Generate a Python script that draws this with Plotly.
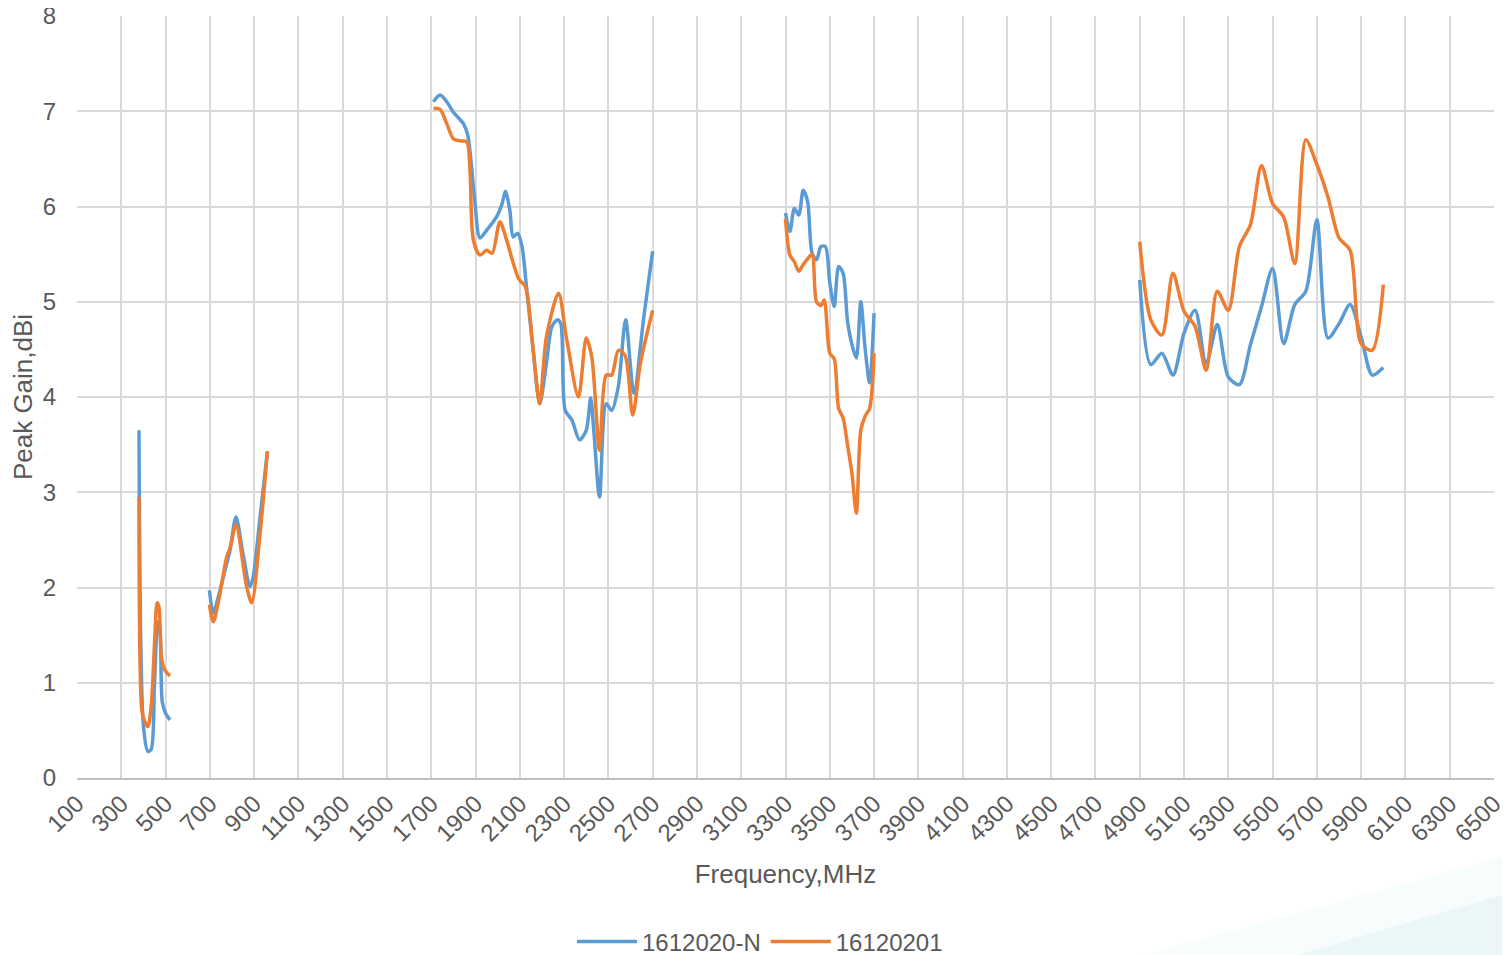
import plotly.graph_objects as go

# frequency (MHz) and peak gain (dBi), None = gap between bands
freq_n = [380, 400, 420, 435, 450, 465, 475, 485, 500, 520, None,
          698, 716, 738, 765, 791, 818, 850, 881, 895, 925, 960, None,
          1710, 1740, 1770, 1800, 1845, 1865, 1895, 1920, 1950, 1995, 2020, 2035, 2055, 2070,
          2090, 2110, 2130, 2160, 2190, 2220, 2245, 2270, 2285, 2305, 2335, 2370, 2400, 2420,
          2435, 2460, 2490, 2515, 2545, 2578, 2615, 2660, 2700, None,
          3300, 3320, 3340, 3360, 3380, 3400, 3420, 3440, 3460, 3480, 3500, 3520, 3540, 3560,
          3580, 3600, 3620, 3640, 3660, 3680, 3700, None,
          4900, 4950, 5000, 5050, 5100, 5150, 5200, 5250, 5300, 5350, 5400, 5450, 5500, 5550,
          5600, 5650, 5700, 5750, 5800, 5850, 5900, 5950, 6000]
gain_n = [3.65, 0.55, 0.28, 0.30, 1.00, 1.64, 1.55, 0.80, 0.68, 0.61, None,
          1.97, 1.73, 1.90, 2.15, 2.39, 2.74, 2.35, 2.01, 2.10, 2.70, 3.43, None,
          7.10, 7.17, 7.10, 6.99, 6.87, 6.75, 6.10, 5.67, 5.75, 5.89, 6.03, 6.16, 5.96, 5.68,
          5.72, 5.58, 5.16, 4.50, 3.93, 4.35, 4.74, 4.81, 4.77, 3.86, 3.76, 3.55, 3.65, 3.99,
          3.62, 2.95, 3.93, 3.86, 4.11, 4.81, 4.04, 4.84, 5.53, None,
          5.93, 5.74, 5.98, 5.91, 6.17, 6.05, 5.51, 5.44, 5.58, 5.58, 5.20, 4.95, 5.37, 5.30,
          4.80, 4.55, 4.41, 5.00, 4.50, 4.15, 4.88, None,
          5.23, 4.34, 4.46, 4.23, 4.67, 4.91, 4.35, 4.76, 4.21, 4.13, 4.55, 4.95, 5.35, 4.56,
          4.97, 5.11, 5.86, 4.62, 4.77, 4.97, 4.63, 4.23, 4.31]

freq_1 = [380, 393, 405, 420, 435, 451, 462, 470, 480, 490, 500, 520, None,
          698, 716, 746, 776, 791, 818, 866, 889, 927, 960, None,
          1710, 1740, 1770, 1800, 1830, 1860, 1875, 1890, 1920, 1950, 1975, 2010, 2040, 2095,
          2125, 2160, 2190, 2220, 2275, 2310, 2365, 2400, 2425, 2460, 2490, 2515, 2545, 2575,
          2610, 2645, 2700, None,
          3300, 3320, 3340, 3360, 3380, 3400, 3420, 3440, 3460, 3475, 3500, 3520, 3540, 3560,
          3580, 3600, 3620, 3640, 3660, 3680, 3700, None,
          4900, 4950, 5000, 5050, 5100, 5150, 5200, 5250, 5300, 5350, 5400, 5450, 5500, 5550,
          5600, 5650, 5700, 5750, 5800, 5850, 5900, 5950, 6000]
gain_1 = [2.95, 0.71, 0.60, 0.54, 0.75, 1.45, 1.84, 1.80, 1.30, 1.17, 1.12, 1.07, None,
          1.82, 1.64, 1.94, 2.32, 2.41, 2.66, 2.01, 1.84, 2.57, 3.43, None,
          7.03, 7.02, 6.87, 6.71, 6.69, 6.68, 6.38, 5.65, 5.49, 5.54, 5.51, 5.84, 5.65, 5.24,
          5.16, 4.50, 3.93, 4.63, 5.09, 4.63, 4.00, 4.62, 4.42, 3.44, 4.23, 4.23, 4.49, 4.44,
          3.81, 4.36, 4.91, None,
          5.87, 5.49, 5.42, 5.32, 5.39, 5.45, 5.50, 5.00, 4.96, 5.02, 4.46, 4.40, 3.88, 3.78,
          3.50, 3.20, 2.78, 3.65, 3.80, 3.88, 4.46, None,
          5.63, 4.81, 4.65, 5.30, 4.90, 4.74, 4.28, 5.11, 4.91, 5.58, 5.81, 6.43, 6.03, 5.89,
          5.40, 6.70, 6.44, 6.10, 5.67, 5.54, 4.56, 4.49, 5.18]

series_names = ["1612020-N", "16120201"]

TXT = "#595959"
FONT = "Liberation Sans, Arial, sans-serif"

fig = go.Figure()
fig.add_trace(go.Scatter(x=freq_n, y=gain_n, name=series_names[0], mode="lines",
                         line=dict(color="#5B9BD5", width=3.5, shape="spline", smoothing=0.8),
                         connectgaps=False))
fig.add_trace(go.Scatter(x=freq_1, y=gain_1, name=series_names[1], mode="lines",
                         line=dict(color="#ED7D31", width=3.5, shape="spline", smoothing=0.8),
                         connectgaps=False))

# page body keeps an 8px margin, so the figure is sized to end at the window edge
fig.update_layout(
    width=1502, height=947, autosize=False,
    margin=dict(l=69, r=16, t=8, b=177, autoexpand=False),
    paper_bgcolor="white", plot_bgcolor="white",
    font=dict(family=FONT, color=TXT, size=24),
    showlegend=True,
    legend=dict(orientation="h", x=0.482, xanchor="center", y=-0.215, yanchor="middle",
                font=dict(size=24, color=TXT), itemwidth=60, tracegroupgap=0),
)
fig.update_xaxes(range=[100, 6500], tick0=100, dtick=200, tickangle=-45, automargin=False,
                 showgrid=True, gridcolor="#d9d9d9", gridwidth=1.5,
                 showline=True, linecolor="#bfbfbf", linewidth=2, zeroline=False,
                 ticks="", tickfont=dict(size=24, color=TXT), ticklabeloverflow="allow",
                 title=dict(text="Frequency,MHz", font=dict(size=26, color=TXT), standoff=19))
fig.update_yaxes(range=[0, 8], dtick=1, automargin=False,
                 showgrid=True, gridcolor="#d9d9d9", gridwidth=1.5,
                 showline=False, zeroline=False, ticks="", ticklabelstandoff=20,
                 tickfont=dict(size=24, color=TXT), ticklabeloverflow="allow",
                 title=dict(text="Peak Gain,dBi", font=dict(size=26, color=TXT), standoff=6))

# faint decoration in the bottom right corner
fig.add_shape(type="path", xref="paper", yref="paper",
              path="M 0.75 -0.233 L 1.012 -0.1 L 1.012 -0.233 Z",
              fillcolor="rgba(200,236,236,0.15)", line=dict(width=0), layer="below")
fig.add_shape(type="path", xref="paper", yref="paper",
              path="M 0.86 -0.233 L 1.012 -0.15 L 1.012 -0.233 Z",
              fillcolor="rgba(190,232,232,0.2)", line=dict(width=0), layer="below")

fig.write_html("out.html")
